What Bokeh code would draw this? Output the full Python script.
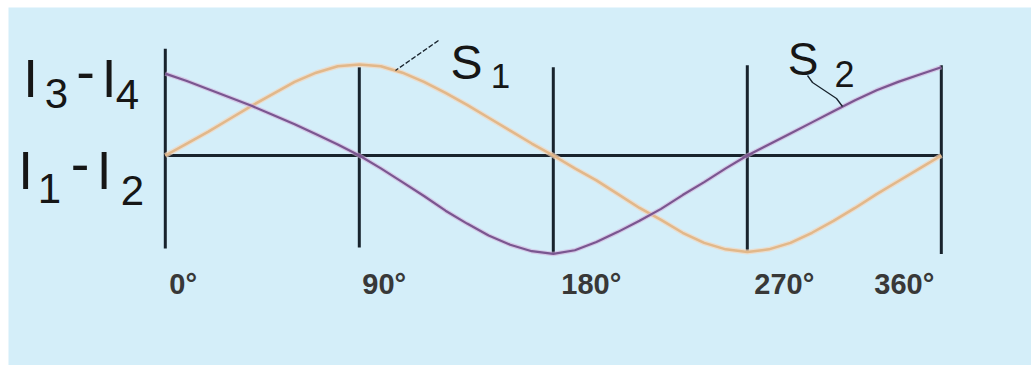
from bokeh.plotting import figure
from bokeh.models import Range1d
from bokeh.core.properties import value
from bokeh.embed import file_html
from bokeh.resources import INLINE

# Phase angle (degrees) and the two signal levels, in units of the peak amplitude
degrees = list(range(0, 361, 10))
s1 = [0.00, 0.13, 0.26, 0.40, 0.54, 0.67, 0.80, 0.90, 0.97, 0.99,
      0.97, 0.90, 0.80, 0.68, 0.55, 0.41, 0.27, 0.13, 0.00,
      -0.14, -0.27, -0.42, -0.57, -0.70, -0.84, -0.95, -1.02, -1.05,
      -1.02, -0.95, -0.84, -0.71, -0.57, -0.42, -0.28, -0.14, 0.00]
s2 = [0.89, 0.81, 0.72, 0.63, 0.54, 0.44, 0.34, 0.23, 0.12, 0.00,
      -0.14, -0.29, -0.44, -0.60, -0.74, -0.87, -0.97, -1.04, -1.07,
      -1.03, -0.94, -0.83, -0.71, -0.58, -0.43, -0.29, -0.14, 0.00,
      0.12, 0.24, 0.36, 0.48, 0.60, 0.71, 0.80, 0.88, 0.96]

tick_deg = [0, 90, 180, 270, 360]
tick_labels = ["0°", "90°", "180°", "270°", "360°"]
marker_top = [1.16, 0.96, 0.96, 0.98, 0.98]
marker_bottom = [-1.01, -1.00, -1.07, -1.05, -1.07]

# screen geometry
W, H = 1031, 365
LEFT, TOP = 8, 7
PX_PER_DEG = 2.1556
PX_PER_UNIT = 92.0
X0_PX = 164.8   # screen x of 0°
Y0_PX = 155     # screen y of the zero level


def sx(px):
    return (px - X0_PX) / PX_PER_DEG


def sy(py):
    return (Y0_PX - py) / PX_PER_UNIT


p = figure(width=W, height=H, output_backend="svg", toolbar_location=None,
           x_range=Range1d(sx(LEFT), sx(W)), y_range=Range1d(sy(H), sy(TOP)),
           x_axis_location=None, y_axis_location=None,
           min_border_left=LEFT, min_border_top=TOP,
           min_border_right=0, min_border_bottom=0)
p.grid.visible = False
p.outline_line_color = None
p.background_fill_color = "#d4eef9"
p.border_fill_color = "white"

DARK = "#18232d"
FONT = value("Liberation Sans")

# phase markers and zero level
p.segment(x0=tick_deg, y0=marker_bottom, x1=tick_deg, y1=marker_top,
          line_color=DARK, line_width=3)
p.line(x=[tick_deg[0], tick_deg[-1]], y=[0, 0], line_color=DARK, line_width=3)

# signals
p.line(x=degrees, y=s1, line_color="#f3d6bc", line_width=5, line_alpha=0.7)
p.line(x=degrees, y=s1, line_color="#e2b88a", line_width=2.5)
p.line(x=degrees, y=s2, line_color="#d2aed8", line_width=4.5, line_alpha=0.6)
p.line(x=degrees, y=s2, line_color="#7a5690", line_width=2.2)

# degree labels under the markers
p.text(x=tick_deg, y=[sy(283)] * len(tick_deg), text=tick_labels,
       x_offset=[4, 3, 8, 7, -67], text_font=FONT, text_font_style="bold",
       text_font_size="29px", text_align="left", text_baseline="alphabetic",
       text_color="#383838")


def put(txt, cx, base, size):
    p.text(x=[sx(cx)], y=[sy(base)], text=[txt], text_font=FONT,
           text_font_size=f"{size}px", text_align="center",
           text_baseline="alphabetic", text_color="#161616")


# level names
put("I", 30, 78, 53)
put("3", 56, 93, 42)
put("-", 85, 71, 56)
put("I", 108.5, 78, 53)
put("4", 127, 94, 42)

put("I", 25, 170, 53)
put("1", 49, 188, 42)
put("-", 79.5, 163, 56)
put("I", 103.5, 170, 53)
put("2", 132, 190, 42)

# curve names with leaders
put("S", 466, 62, 48)
put("1", 500, 75, 35)
p.line(x=[sx(438), sx(395)], y=[sy(40), sy(70)], line_color=DARK,
       line_width=1.3, line_dash="5 2")

put("S", 802.5, 58, 46)
put("2", 844, 73, 36)
p.line(x=[sx(807), sx(812), sx(836), sx(842)],
       y=[sy(75), sy(82), sy(98), sy(106)], line_color=DARK, line_width=1.3)

open("out.html", "w").write(file_html(p, INLINE))
